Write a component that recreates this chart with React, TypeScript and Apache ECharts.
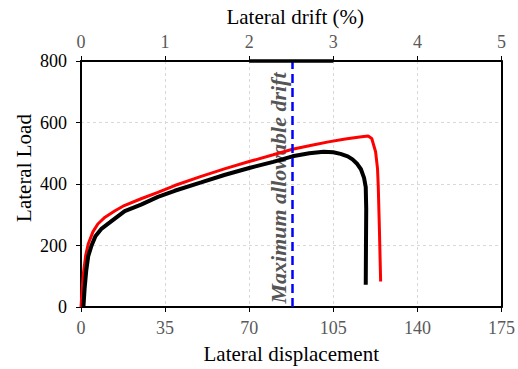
import React, { useEffect, useRef } from "react";
import * as echarts from "echarts";

const displacementTicks = [0, 35, 70, 105, 140, 175];
const driftTicks = [0, 1, 2, 3, 4, 5];
const loadTicks = [0, 200, 400, 600, 800];

const redCurve: [number, number][] = [
  [0, 0], [0.5, 60], [1, 110], [2, 170], [3, 205], [5, 245], [7, 270], [10, 292],
  [14, 312], [18, 330], [25, 352], [32, 373], [39, 395], [50, 425], [60, 450],
  [70, 473], [80, 495], [88, 513], [96, 526], [103, 537], [110, 546], [116, 553],
  [119.5, 556], [121, 548], [122.6, 505], [123.4, 450], [123.7, 395], [124.2, 250],
  [124.7, 83],
];

const blackCurve: [number, number][] = [
  [1, 0], [1.5, 60], [2.2, 120], [3, 165], [4.4, 200], [6, 230], [8.6, 255],
  [12, 275], [18.2, 312], [25, 333], [32, 358], [39, 378], [50, 405], [60, 430],
  [70, 452], [80, 472], [88, 490], [95, 500], [101, 505], [105, 503], [108, 498],
  [111, 490], [113, 480], [115, 465], [116.5, 448], [117.8, 420], [118.5, 390],
  [118.7, 320], [118.6, 200], [118.5, 72],
];

const maxAllowableDisplacement = 88;
const topSegment: [number, number][] = [[2, 800], [3, 800]];

const FONT = "'Liberation Serif', 'Times New Roman', serif";
const LABEL_COLOR = "#595959";

export default function App() {
  const ref = useRef<HTMLDivElement>(null);
  useEffect(() => {
    document.body.style.margin = "0";
    if (!ref.current) return;
    const chart = echarts.init(ref.current, undefined, { renderer: "svg" });
    chart.setOption({
      animation: false,
      backgroundColor: "#fff",
      grid: { left: 81, right: 15, top: 61, bottom: 60 },
      textStyle: { fontFamily: FONT },
      xAxis: [
        {
          type: "value",
          position: "bottom",
          min: displacementTicks[0],
          max: displacementTicks[displacementTicks.length - 1],
          interval: 35,
          name: "Lateral displacement",
          nameLocation: "middle",
          nameGap: 36,
          nameMoveOverlap: false,
          nameTextStyle: { fontFamily: FONT, fontSize: 21, color: "#000" },
          axisLine: { show: true, onZero: false, lineStyle: { color: "#000", width: 2 } },
          axisTick: { show: true, length: 5, lineStyle: { color: "#000" } },
          axisLabel: { margin: 12, fontFamily: FONT, fontSize: 18, color: LABEL_COLOR },
          splitLine: { show: true, lineStyle: { color: "#d9d9d9", type: [3, 3], width: 1 } },
        },
        {
          type: "value",
          position: "top",
          min: driftTicks[0],
          max: driftTicks[driftTicks.length - 1],
          interval: 1,
          name: "Lateral drift (%)",
          nameLocation: "middle",
          nameGap: 34,
          nameMoveOverlap: false,
          nameTextStyle: { fontFamily: FONT, fontSize: 21, color: "#000", padding: [0, 0, 0, 8] },
          axisLine: { show: true, onZero: false, lineStyle: { color: "#000", width: 2 } },
          axisTick: { show: true, length: 5, lineStyle: { color: "#000" } },
          axisLabel: { margin: 10, fontFamily: FONT, fontSize: 18, color: LABEL_COLOR },
          splitLine: { show: false },
        },
      ],
      yAxis: [
        {
          type: "value",
          position: "left",
          min: loadTicks[0],
          max: loadTicks[loadTicks.length - 1],
          interval: 200,
          name: "Lateral Load",
          nameLocation: "middle",
          nameGap: 47,
          nameMoveOverlap: false,
          nameTextStyle: { fontFamily: FONT, fontSize: 21, color: "#000", padding: [0, 0, 0, 32] },
          axisLine: { show: true, onZero: false, lineStyle: { color: "#000", width: 2 } },
          axisTick: { show: true, length: 5, lineStyle: { color: "#000" } },
          axisLabel: { margin: 14, fontFamily: FONT, fontSize: 18, color: "#000" },
          splitLine: { show: true, lineStyle: { color: "#d9d9d9", type: [3, 3], width: 1 } },
        },
        {
          type: "value",
          position: "right",
          min: loadTicks[0],
          max: loadTicks[loadTicks.length - 1],
          interval: 200,
          axisLine: { show: true, onZero: false, lineStyle: { color: "#000", width: 2 } },
          axisTick: { show: false },
          axisLabel: { show: false },
          splitLine: { show: false },
        },
      ],
      series: [
        {
          type: "line",
          name: "red",
          data: redCurve,
          xAxisIndex: 0,
          yAxisIndex: 0,
          showSymbol: false,
          symbol: "none",
          lineStyle: { color: "#ff0000", width: 3 },
          z: 3,
        },
        {
          type: "line",
          name: "black",
          data: blackCurve,
          xAxisIndex: 0,
          yAxisIndex: 0,
          showSymbol: false,
          symbol: "none",
          lineStyle: { color: "#000", width: 4 },
          z: 4,
          markLine: {
            silent: true,
            symbol: "none",
            label: { show: false },
            lineStyle: { color: "#0000ff", width: 2.5, type: [9, 5] },
            data: [{ xAxis: maxAllowableDisplacement }],
          },
        },
        {
          type: "line",
          data: topSegment,
          xAxisIndex: 1,
          yAxisIndex: 0,
          showSymbol: false,
          symbol: "none",
          clip: false,
          lineStyle: { color: "#000", width: 3.5 },
          z: 5,
        },
      ],
      graphic: [
        {
          type: "text",
          x: 278,
          y: 188,
          rotation: Math.PI / 2,
          z: 2,
          style: {
            text: "Maximum allowable drift",
            font: `italic bold 22px ${FONT}`,
            fill: "#555",
            textAlign: "center",
            textVerticalAlign: "middle",
          },
        },
      ],
    });
    return () => chart.dispose();
  }, []);
  return <div ref={ref} style={{ width: 518, height: 369 }} />;
}
